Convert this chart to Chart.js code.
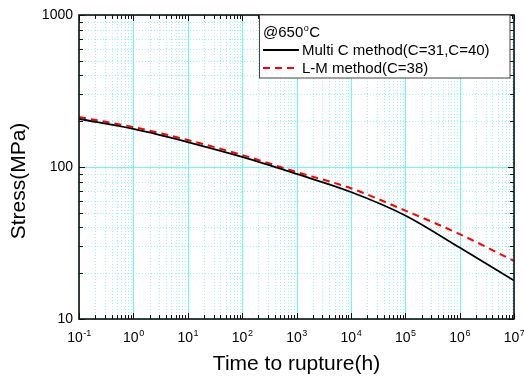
<!DOCTYPE html>
<html>
<head>
<meta charset="utf-8">
<script src="https://cdn.jsdelivr.net/npm/chart.js@4.4.0/dist/chart.umd.min.js"></script>
<style>
  html, body { margin: 0; padding: 0; background: #fff; }
</style>
</head>
<body>
<canvas id="rupture" width="524" height="378"></canvas>
<script>
// stress vs. time to rupture at 650 C, two prediction methods
const hours = [0.1, 1, 10, 100, 1e3, 1e4, 1e5, 1e6, 1e7]
const multiC = [207, 178, 146, 116.4, 90, 68.5, 48, 29.5, 17.9]
const larsonMiller = [213, 183, 150.5, 120, 92.7, 72.5, 51.7, 36.2, 24.1]

const seriesLabels = ['Multi C method(C=31,C=40)', 'L-M method(C=38)']
const xTickExps = [-1, 0, 1, 2, 3, 4, 5, 6, 7]
const yTickValues = [10, 100, 1000]
const xAxisTitle = 'Time to rupture(h)'
const yAxisTitle = 'Stress(MPa)'

const FONT = '"Liberation Sans", Arial, sans-serif'

// 1..9 x 10^n steps inside [min, max]
function decadeSteps(min, max) {
  const out = []
  for (let e = Math.floor(Math.log10(min)); e <= Math.ceil(Math.log10(max)); e++) {
    for (let m = 1; m < 10; m++) {
      const v = m * Math.pow(10, e)
      if (v >= min * 0.999 && v <= max * 1.001) out.push({ v, major: m === 1 })
    }
  }
  return out
}

const origin = {
  id: 'origin',
  beforeDatasetsDraw(chart) {
    const { ctx, chartArea: a, scales: { x, y } } = chart
    const xs = decadeSteps(x.min, x.max)
    const ys = decadeSteps(y.min, y.max)
    ctx.save()
    ctx.lineWidth = 1
    // minor grid, dotted
    ctx.strokeStyle = '#98f2f6'
    ctx.setLineDash([1, 2])
    ctx.beginPath()
    xs.filter(t => !t.major).forEach(t => {
      const px = Math.round(x.getPixelForValue(t.v)) + 0.5
      ctx.moveTo(px, a.top); ctx.lineTo(px, a.bottom)
    })
    ys.filter(t => !t.major).forEach(t => {
      const py = Math.round(y.getPixelForValue(t.v)) + 0.5
      ctx.moveTo(a.left, py); ctx.lineTo(a.right, py)
    })
    ctx.stroke()
    // decade grid, solid
    ctx.setLineDash([])
    ctx.strokeStyle = '#6ff6fb'
    ctx.beginPath()
    xs.filter(t => t.major).forEach(t => {
      const px = Math.round(x.getPixelForValue(t.v)) + 0.5
      ctx.moveTo(px, a.top); ctx.lineTo(px, a.bottom)
    })
    ys.filter(t => t.major).forEach(t => {
      const py = Math.round(y.getPixelForValue(t.v)) + 0.5
      ctx.moveTo(a.left, py); ctx.lineTo(a.right, py)
    })
    ctx.stroke()
    ctx.restore()
  },
  afterDraw(chart) {
    const { ctx, chartArea: a, scales: { x, y } } = chart
    ctx.save()

    // frame and inward ticks on all four sides
    ctx.strokeStyle = '#111'
    ctx.lineWidth = 1.6
    ctx.strokeRect(a.left, a.top, a.right - a.left, a.bottom - a.top)
    ctx.lineWidth = 1
    ctx.beginPath()
    decadeSteps(x.min, x.max).forEach(t => {
      const px = Math.round(x.getPixelForValue(t.v)) + 0.5
      const len = t.major ? 6 : 4
      ctx.moveTo(px, a.bottom); ctx.lineTo(px, a.bottom - len)
      ctx.moveTo(px, a.top); ctx.lineTo(px, a.top + len)
    })
    decadeSteps(y.min, y.max).forEach(t => {
      const py = Math.round(y.getPixelForValue(t.v)) + 0.5
      const len = t.major ? 6 : 4
      ctx.moveTo(a.left, py); ctx.lineTo(a.left + len, py)
      ctx.moveTo(a.right, py); ctx.lineTo(a.right - len, py)
    })
    ctx.stroke()

    // y tick labels
    ctx.fillStyle = '#000'
    ctx.font = '14px ' + FONT
    ctx.textAlign = 'right'
    ctx.textBaseline = 'middle'
    yTickValues.forEach(v => ctx.fillText(String(v), a.left - 6, y.getPixelForValue(v)))

    // x tick labels as 10 with a raised exponent
    ctx.textBaseline = 'alphabetic'
    ctx.textAlign = 'left'
    xTickExps.forEach(e => {
      const px = x.getPixelForValue(Math.pow(10, e))
      ctx.font = '14px ' + FONT
      const base = ctx.measureText('10').width
      ctx.font = '9px ' + FONT
      const sup = String(e)
      const w = base + ctx.measureText(sup).width
      const left = px - w / 2
      ctx.font = '14px ' + FONT
      ctx.fillText('10', left, 342)
      ctx.font = '9px ' + FONT
      ctx.fillText(sup, left + base + 0.5, 336)
    })

    // axis titles
    ctx.font = '21px ' + FONT
    ctx.textAlign = 'center'
    ctx.fillText(xAxisTitle, (a.left + a.right) / 2, 370)
    ctx.save()
    ctx.translate(25, 181)
    ctx.rotate(-Math.PI / 2)
    ctx.fillText(yAxisTitle, 0, 0)
    ctx.restore()

    // legend box
    const lx = 259.5, ly = a.top, lw = 250.5, lh = 63
    ctx.fillStyle = '#fff'
    ctx.fillRect(lx, ly, lw, lh)
    ctx.strokeStyle = '#444'
    ctx.lineWidth = 1
    ctx.strokeRect(lx, ly, lw, lh)

    ctx.fillStyle = '#000'
    ctx.textAlign = 'left'
    ctx.font = '15px ' + FONT
    ctx.fillText('@650', 263, 37)
    let cx = 263 + ctx.measureText('@650').width
    ctx.font = '9px ' + FONT
    ctx.fillText('o', cx + 0.5, 31)
    cx += ctx.measureText('o').width + 1
    ctx.font = '15px ' + FONT
    ctx.fillText('C', cx, 37)

    chart.data.datasets.forEach((ds, i) => {
      const rowY = 50 + i * 18
      ctx.strokeStyle = ds.borderColor
      ctx.lineWidth = ds.borderWidth
      ctx.setLineDash(ds.borderDash || [])
      ctx.beginPath()
      ctx.moveTo(263, rowY); ctx.lineTo(299, rowY)
      ctx.stroke()
      ctx.setLineDash([])
      ctx.fillStyle = '#000'
      ctx.font = '15px ' + FONT
      ctx.fillText(ds.label, 302, rowY + 5)
    })

    ctx.restore()
  }
}

const toPoints = ys => hours.map((h, i) => ({ x: h, y: ys[i] }))

new Chart(document.getElementById('rupture'), {
  type: 'line',
  data: {
    datasets: [
      {
        label: seriesLabels[0],
        data: toPoints(multiC),
        borderColor: '#000000',
        borderWidth: 1.8,
        pointRadius: 0,
        cubicInterpolationMode: 'monotone'
      },
      {
        label: seriesLabels[1],
        data: toPoints(larsonMiller),
        borderColor: '#ff0000',
        borderWidth: 2,
        borderDash: [7, 5],
        pointRadius: 0,
        cubicInterpolationMode: 'monotone'
      }
    ]
  },
  options: {
    responsive: false,
    animation: false,
    layout: { padding: { left: 79, right: 10, top: 15, bottom: 59 } },
    scales: {
      x: { type: 'logarithmic', min: 0.1, max: 1e7, display: false },
      y: { type: 'logarithmic', min: 10, max: 1000, display: false }
    },
    plugins: {
      legend: { display: false },
      tooltip: { enabled: false }
    }
  },
  plugins: [origin]
})
</script>
</body>
</html>
